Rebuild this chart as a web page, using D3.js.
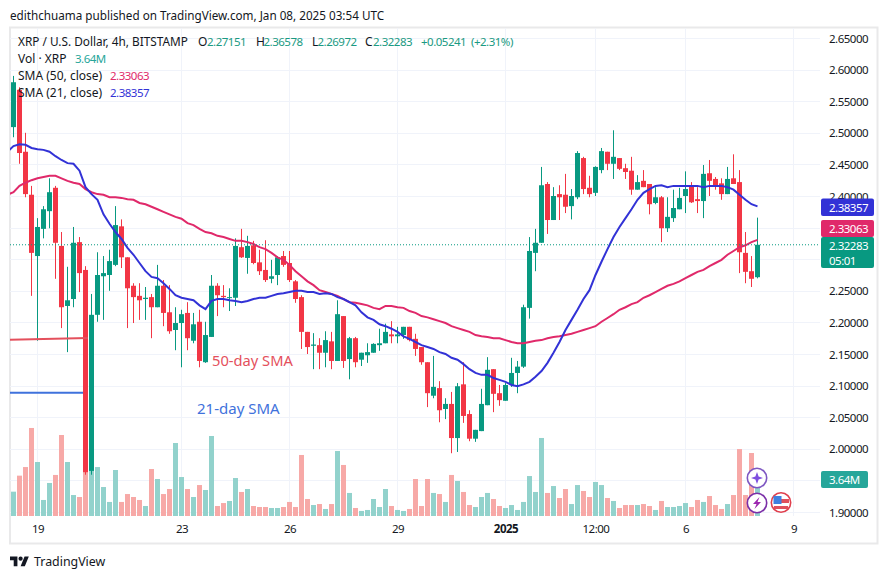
<!DOCTYPE html>
<html><head><meta charset="utf-8">
<script src="https://cdn.jsdelivr.net/npm/d3@7/dist/d3.min.js"></script>
<style>html,body{margin:0;padding:0;background:#fff}svg{display:block}text{font-family:"Noto Sans",sans-serif}.num{font-size:11.5px;letter-spacing:-.5px}</style>
</head><body><svg id="c" width="888" height="579"></svg>
<script>
const open=[2.509,2.568,2.470,2.402,2.305,2.348,2.376,2.413,2.321,2.226,2.237,2.327,2.283,1.965,2.212,2.273,2.275,2.291,2.352,2.303,2.258,2.242,2.237,2.240,2.224,2.258,2.216,2.188,2.199,2.215,2.171,2.201,2.137,2.177,2.258,2.242,2.239,2.239,2.319,2.302,2.322,2.295,2.283,2.269,2.275,2.305,2.294,2.265,2.240,2.185,2.163,2.164,2.152,2.170,2.139,2.210,2.142,2.175,2.141,2.148,2.152,2.164,2.167,2.181,2.178,2.180,2.193,2.174,2.161,2.137,2.084,2.096,2.063,2.071,2.017,2.102,2.055,2.016,2.028,2.069,2.126,2.088,2.076,2.101,2.120,2.130,2.223,2.310,2.326,2.419,2.362,2.403,2.402,2.384,2.398,2.460,2.413,2.405,2.441,2.470,2.451,2.460,2.444,2.440,2.410,2.424,2.419,2.389,2.398,2.349,2.365,2.379,2.400,2.416,2.395,2.392,2.436,2.427,2.420,2.403,2.428,2.422,2.310,2.281,2.27151];
const high=[2.590,2.572,2.500,2.416,2.365,2.384,2.428,2.416,2.343,2.288,2.351,2.335,2.289,2.245,2.311,2.305,2.315,2.384,2.363,2.303,2.262,2.262,2.256,2.245,2.291,2.267,2.259,2.224,2.220,2.232,2.215,2.220,2.201,2.275,2.262,2.259,2.254,2.333,2.348,2.337,2.329,2.315,2.330,2.299,2.305,2.313,2.313,2.267,2.243,2.185,2.183,2.175,2.186,2.185,2.235,2.210,2.177,2.177,2.152,2.167,2.167,2.190,2.198,2.202,2.193,2.193,2.193,2.182,2.161,2.137,2.147,2.107,2.080,2.090,2.104,2.137,2.061,2.030,2.095,2.145,2.126,2.101,2.104,2.144,2.139,2.228,2.335,2.348,2.446,2.422,2.414,2.417,2.435,2.411,2.471,2.462,2.432,2.447,2.476,2.470,2.504,2.460,2.451,2.462,2.433,2.441,2.419,2.414,2.400,2.398,2.410,2.413,2.439,2.422,2.414,2.449,2.457,2.430,2.428,2.446,2.466,2.441,2.343,2.305,2.36578];
const low=[2.493,2.451,2.398,2.242,2.171,2.333,2.349,2.269,2.191,2.153,2.224,2.248,1.959,1.959,2.201,2.204,2.250,2.289,2.286,2.191,2.199,2.204,2.204,2.175,2.224,2.194,2.182,2.156,2.129,2.156,2.167,2.129,2.136,2.177,2.210,2.224,2.218,2.226,2.302,2.277,2.292,2.275,2.264,2.262,2.259,2.288,2.264,2.231,2.158,2.150,2.126,2.126,2.129,2.126,2.139,2.128,2.110,2.129,2.131,2.136,2.152,2.155,2.167,2.167,2.167,2.174,2.170,2.147,2.133,2.066,2.080,2.042,2.047,1.993,1.995,2.041,2.012,2.011,2.028,2.069,2.058,2.068,2.076,2.098,2.088,2.128,2.206,2.281,2.326,2.340,2.362,2.362,2.373,2.363,2.395,2.403,2.398,2.400,2.436,2.441,2.427,2.441,2.427,2.402,2.410,2.414,2.371,2.387,2.327,2.343,2.359,2.379,2.373,2.389,2.373,2.365,2.400,2.410,2.394,2.403,2.419,2.278,2.262,2.256,2.26972];
const close=[2.580,2.468,2.403,2.310,2.351,2.379,2.406,2.326,2.224,2.235,2.326,2.278,1.963,2.212,2.275,2.278,2.297,2.354,2.303,2.254,2.240,2.235,2.239,2.224,2.258,2.215,2.186,2.199,2.213,2.175,2.197,2.139,2.180,2.258,2.243,2.240,2.240,2.321,2.303,2.321,2.294,2.281,2.267,2.273,2.303,2.291,2.267,2.237,2.185,2.161,2.165,2.152,2.172,2.139,2.213,2.139,2.175,2.137,2.152,2.153,2.166,2.167,2.185,2.178,2.181,2.193,2.172,2.158,2.137,2.088,2.098,2.061,2.071,2.017,2.099,2.052,2.016,2.030,2.071,2.125,2.087,2.077,2.101,2.120,2.130,2.224,2.313,2.326,2.417,2.362,2.400,2.398,2.383,2.400,2.468,2.411,2.403,2.446,2.471,2.451,2.462,2.443,2.438,2.410,2.422,2.414,2.387,2.398,2.349,2.367,2.381,2.397,2.411,2.390,2.392,2.435,2.424,2.417,2.403,2.427,2.419,2.311,2.280,2.269,2.32283];
const volume=[2.46,4.08,4.95,8.90,5.46,1.62,3.34,4.15,8.19,5.46,2.12,1.92,4.99,5.32,4.95,2.93,1.42,4.65,1.42,2.22,1.92,1.62,1.01,4.75,3.74,2.22,2.73,7.38,3.94,2.73,1.92,3.13,2.63,8.09,1.01,1.31,1.52,3.84,2.43,2.73,1.01,0.91,0.91,0.81,0.81,0.91,1.42,0.91,6.17,1.72,1.11,1.21,0.71,1.21,6.57,5.16,2.33,0.81,0.51,0.61,1.72,0.91,2.73,1.01,0.61,0.51,0.71,3.74,1.01,3.74,2.33,2.22,1.42,4.15,3.54,2.43,1.11,0.91,1.92,2.33,1.72,1.01,0.81,1.11,0.61,1.42,4.04,2.43,7.89,2.33,3.03,1.82,2.73,1.21,3.13,2.53,1.92,3.44,3.13,1.82,1.52,0.81,1.11,1.11,1.11,1.21,1.01,0.61,1.52,0.91,0.91,1.01,1.31,0.91,1.62,1.42,2.02,1.11,0.71,1.21,2.12,6.77,2.12,6.37,3.64];
// SMA values start one bar before the first candle
const sma50=[2.402,2.406,2.416,2.421,2.425,2.428,2.430,2.432,2.432,2.428,2.424,2.421,2.419,2.411,2.406,2.403,2.402,2.398,2.398,2.397,2.395,2.394,2.389,2.387,2.383,2.379,2.375,2.371,2.367,2.364,2.357,2.354,2.348,2.343,2.341,2.337,2.335,2.332,2.329,2.329,2.327,2.324,2.319,2.316,2.310,2.303,2.299,2.291,2.281,2.273,2.265,2.259,2.251,2.248,2.245,2.242,2.237,2.232,2.231,2.229,2.227,2.223,2.221,2.226,2.226,2.224,2.223,2.218,2.215,2.210,2.208,2.205,2.202,2.199,2.194,2.191,2.188,2.185,2.180,2.178,2.177,2.175,2.175,2.172,2.169,2.167,2.167,2.169,2.171,2.172,2.175,2.177,2.178,2.180,2.182,2.185,2.188,2.191,2.194,2.201,2.207,2.213,2.220,2.224,2.229,2.232,2.239,2.243,2.248,2.253,2.258,2.261,2.265,2.270,2.275,2.280,2.283,2.289,2.294,2.299,2.307,2.313,2.319,2.322,2.327,2.33063];
const sma21=[2.470,2.479,2.482,2.481,2.476,2.474,2.473,2.470,2.463,2.457,2.452,2.451,2.440,2.414,2.403,2.394,2.371,2.356,2.343,2.332,2.318,2.307,2.294,2.281,2.272,2.270,2.262,2.253,2.243,2.239,2.237,2.235,2.227,2.221,2.234,2.237,2.237,2.235,2.234,2.232,2.234,2.237,2.239,2.239,2.242,2.245,2.246,2.248,2.250,2.250,2.248,2.248,2.245,2.246,2.245,2.240,2.237,2.232,2.227,2.216,2.208,2.204,2.197,2.194,2.190,2.185,2.178,2.174,2.169,2.164,2.161,2.158,2.153,2.150,2.144,2.141,2.134,2.126,2.120,2.117,2.117,2.112,2.109,2.106,2.101,2.099,2.102,2.106,2.114,2.123,2.136,2.152,2.169,2.188,2.204,2.220,2.237,2.251,2.275,2.296,2.316,2.335,2.351,2.365,2.379,2.394,2.405,2.411,2.416,2.417,2.414,2.416,2.416,2.416,2.416,2.416,2.414,2.416,2.416,2.416,2.414,2.410,2.402,2.394,2.387,2.38357];
const priceTicks=[2.65,2.60,2.55,2.50,2.45,2.40,2.35,2.30,2.25,2.20,2.15,2.10,2.05,2.00,1.95,1.90];
const priceLabels=[2.65,2.60,2.55,2.50,2.45,2.40,2.25,2.20,2.15,2.10,2.05,2.00,1.90];
const timeIndex=[4,28,46,64,82,97,112,130];
const timeLabels=["19","23","26","29","2025","12:00","6","9"];
const refRedPrice=[2.1725,2.1755];
const refBluePrice=2.0885;

const GREEN="#089981",RED="#f23645",VG="#92d2cc",VR="#f7a9a7",SMA_R="#e0296a",SMA_B="#3232d6";
const svg=d3.select("#c");
const x=d3.scaleLinear().domain([0,124]).range([13,757]);
const y=d3.scaleLinear().domain([2.65,1.90]).range([38,512]);
const v=d3.scaleLinear().domain([0,3.64]).range([516,480]);

svg.append("defs").append("clipPath").attr("id","plot").append("rect").attr("x",10).attr("y",28).attr("width",810).attr("height",488);

// frame
svg.append("rect").attr("x",10).attr("y",27.5).attr("width",867.5).attr("height",516).attr("fill","none").attr("stroke","#e9e9ea").attr("stroke-width",2);

// grid
const grid=svg.append("g").attr("stroke","#f0f3fa").attr("stroke-width",1);
grid.selectAll("line.h").data(priceTicks).join("line").attr("class","h").attr("x1",10).attr("x2",820)
  .attr("y1",d=>Math.round(y(d))+.5).attr("y2",d=>Math.round(y(d))+.5);
grid.selectAll("line.v").data(timeIndex).join("line").attr("class","v").attr("y1",28).attr("y2",516)
  .attr("x1",d=>x(d)+.5).attr("x2",d=>x(d)+.5);

const plot=svg.append("g").attr("clip-path","url(#plot)");

// volume
plot.append("g").selectAll("rect").data(volume).join("rect")
  .attr("x",(d,i)=>x(i)-2).attr("width",5).attr("y",d=>v(d)).attr("height",d=>516-v(d))
  .attr("fill",(d,i)=>close[i]>=open[i]?VG:VR);

// candles
const candles=open.map((o,i)=>({i,o,h:high[i],l:low[i],c:close[i]}));
const cg=plot.append("g").selectAll("g").data(candles).join("g").attr("fill",d=>d.c>=d.o?GREEN:RED);
cg.append("rect").attr("x",d=>x(d.i)).attr("width",1).attr("y",d=>y(d.h)).attr("height",d=>y(d.l)-y(d.h));
cg.append("rect").attr("x",d=>x(d.i)-2).attr("width",5).attr("y",d=>y(Math.max(d.o,d.c)))
  .attr("height",d=>Math.max(1,Math.abs(y(d.o)-y(d.c))));

// hand drawn reference lines
plot.append("line").attr("x1",10).attr("x2",88).attr("y1",y(refRedPrice[0])).attr("y2",y(refRedPrice[1])).attr("stroke","#e4505c").attr("stroke-width",2);
plot.append("line").attr("x1",10).attr("x2",83).attr("y1",y(refBluePrice)).attr("y2",y(refBluePrice)).attr("stroke","#3f72dc").attr("stroke-width",2);

// SMAs
const line=d3.line().x((d,i)=>x(i-1)+.5).y(d=>y(d));
plot.append("path").attr("d",line(sma50)).attr("fill","none").attr("stroke",SMA_R).attr("stroke-width",2);
plot.append("path").attr("d",line(sma21)).attr("fill","none").attr("stroke",SMA_B).attr("stroke-width",2);

// current price dotted line
svg.append("line").attr("x1",10).attr("x2",820).attr("y1",y(close[124])).attr("y2",y(close[124])).attr("stroke",GREEN).attr("stroke-width",1).attr("stroke-dasharray","1 2");

// axes
const pa=d3.axisRight(y).tickValues(priceLabels).tickSize(0).tickPadding(0).tickFormat(d3.format(".5f"));
const pag=svg.append("g").attr("transform","translate(829,0)").call(pa);
pag.select(".domain").remove();
pag.selectAll("text").attr("class","num").attr("fill","#131722").attr("dy",".35em").attr("font-size",null).style("font-family",'"Noto Sans",sans-serif');
const ta=d3.axisBottom(x).tickValues(timeIndex).tickSize(0).tickPadding(0).tickFormat((d,i)=>timeLabels[i]);
const tag=svg.append("g").attr("transform","translate(0.5,525)").call(ta);
tag.select(".domain").remove();
tag.selectAll("text").attr("class","num").attr("fill","#131722").attr("font-weight",(d,i)=>timeLabels[i]==="2025"?700:400).style("font-family",'"Noto Sans",sans-serif');

// price tags
const tags=[{t:sma21[125],c:SMA_B,y0:198.5,y1:216,ty:207.5},{t:sma50[125],c:SMA_R,y0:220,y1:237,ty:228.5}];
svg.selectAll("rect.tag").data(tags).join("rect").attr("class","tag").attr("x",821).attr("width",53).attr("y",d=>d.y0).attr("height",d=>d.y1-d.y0).attr("rx",2).attr("fill",d=>d.c);
svg.selectAll("text.tagt").data(tags).join("text").attr("class","tagt num").attr("x",829).attr("y",d=>d.ty).attr("dy",".35em").attr("fill","#fff").text(d=>d.t.toFixed(5));
svg.append("rect").attr("x",821).attr("y",237).attr("width",53).attr("height",31).attr("rx",2).attr("fill",GREEN);
svg.append("text").attr("class","num").attr("x",829).attr("y",245.5).attr("dy",".35em").attr("fill","#fff").text(close[124].toFixed(5));
svg.append("text").attr("class","num").attr("x",829).attr("y",260.5).attr("dy",".35em").attr("fill","#fff").text("05:01");
svg.append("rect").attr("x",821).attr("y",471).attr("width",47).attr("height",17).attr("rx",2).attr("fill","#26a69a");
svg.append("text").attr("class","num").attr("x",829).attr("y",479.5).attr("dy",".35em").attr("fill","#fff").text(volume[124].toFixed(2)+"M");

// legend + header
function t(xp,yp,s,fill,size){return svg.append("text").attr("x",xp).attr("y",yp).attr("fill",fill).attr("font-size",size||12).text(s);}
function n(xp,yp,s,fill){return svg.append("text").attr("class","num").attr("x",xp).attr("y",yp).attr("fill",fill).text(s);}
const INK="#131722",VAL="#1a9a82";
t(10,20,"edithchuama published on TradingView.com, Jan 08, 2025 03:54 UTC",INK,11.7);
t(18,46,"XRP / U.S. Dollar, 4h, BITSTAMP",INK,11.8);
t(198,46,"O",INK);n(207,46,"2.27151",VAL);
t(256,46,"H",INK);n(263.5,46,"2.36578",VAL);
t(312,46,"L",INK);n(317.5,46,"2.26972",VAL);
t(365,46,"C",INK);n(373,46,"2.32283",VAL);
n(421,46,"+0.05241",VAL);n(471,46,"(+2.31%)",VAL);
t(18,63,"Vol · XRP",INK);n(75,63,"3.64M","#26a69a");
t(18,80,"SMA (50, close)",INK);n(110,80,"2.33063",SMA_R);
t(18,97,"SMA (21, close)",INK);n(110,97,"2.38357",SMA_B);

// annotations
t(212,366,"50-day SMA","#e4505c",14.7);
t(197,414,"21-day SMA","#3f72dc",15);

// event icons
const ic=svg.append("g");
ic.append("circle").attr("cx",757).attr("cy",478).attr("r",9.7).attr("fill","#fff").attr("stroke","#7e57c2").attr("stroke-width",1.6);
ic.append("path").attr("transform","translate(757,478)").attr("d","M0,-6 L1.6,-1.6 L6,0 L1.6,1.6 L0,6 L-1.6,1.6 L-6,0 L-1.6,-1.6Z").attr("fill","#7e4fe0");
ic.append("circle").attr("cx",757).attr("cy",503).attr("r",9.7).attr("fill","#fff").attr("stroke","#7b2fa8").attr("stroke-width",1.6);
ic.append("path").attr("transform","translate(757,503)").attr("d","M2.5,-6 L-4,1 L-0.5,1 L-2.5,6 L4,-1 L0.5,-1Z").attr("fill","#9c27b0");
ic.append("circle").attr("cx",781).attr("cy",502.5).attr("r",9.7).attr("fill","#fff").attr("stroke","#e0404e").attr("stroke-width",1.6);
ic.append("rect").attr("x",774).attr("y",499).attr("width",15).attr("height",4).attr("fill","#e0505c");
ic.append("rect").attr("x",774).attr("y",506).attr("width",14).attr("height",3).attr("fill","#e0505c");
ic.append("rect").attr("x",773.5).attr("y",496).attr("width",8).attr("height",8).attr("fill","#3f80e0");

// logo
const lg=svg.append("g").attr("transform","translate(10,554.5) scale(.53)").attr("fill","#131722");
lg.append("path").attr("d","M14 22H7V11H0V4h14v18zM28 22h-8l7.5-18h8L28 22z");
lg.append("circle").attr("cx",20).attr("cy",8).attr("r",4);
t(34,566,"TradingView",INK,12.4);
</script></body></html>
